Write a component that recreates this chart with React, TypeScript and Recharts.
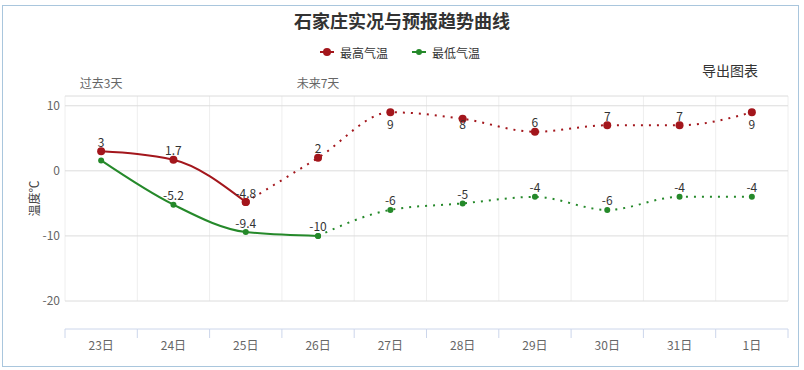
import React from "react";
import { CartesianGrid, Line, LineChart, XAxis, YAxis } from "recharts";

const days = ["23日", "24日", "25日", "26日", "27日", "28日", "29日", "30日", "31日", "1日"];
const maxTemps = [3, 1.7, -4.8, 2, 9, 8, 6, 7, 7, 9];
const minTemps = [1.6, -5.2, -9.4, -10, -6, -5, -4, -6, -4, -4];
// last index drawn as observed (solid); the rest is forecast (dotted)
const lastObservedMax = 2;
const lastObservedMin = 3;
const yTicks = [-20, -10, 0, 10];
const periodLabels = [
  { text: "过去3天", day: 0 },
  { text: "未来7天", day: 3 },
];

const RED = "#a3161c";
const GREEN = "#25892a";
const FONT = '"Noto Sans CJK SC", "Noto Sans", sans-serif';

const W = 804;
const H = 370;
const PLOT_LEFT = 65;
const PLOT_RIGHT = 788;
const PLOT_TOP = 96;
const HALF_BAND = (PLOT_RIGHT - PLOT_LEFT) / days.length / 2;

const data = days.map((day, i) => ({
  day,
  maxPast: i <= lastObservedMax ? maxTemps[i] : null,
  maxFuture: i >= lastObservedMax ? maxTemps[i] : null,
  minPast: i <= lastObservedMin ? minTemps[i] : null,
  minFuture: i >= lastObservedMin ? minTemps[i] : null,
}));

// hide a label when the two series are too close to show both
const overlaps = (i: number) => Math.abs(maxTemps[i] - minTemps[i]) < 2;

function makeLabel(from: number, to: number, hideOverlap: boolean) {
  return (props: any) => {
    const { x, y, value, index } = props;
    if (value == null || index < from || index > to) return null;
    if (hideOverlap && overlaps(index)) return null;
    const above = y - 10;
    const cy = above < PLOT_TOP + 16 ? PLOT_TOP + 27 : above;
    return (
      <text
        key={`lb-${index}`}
        x={x}
        y={cy}
        textAnchor="middle"
        dominantBaseline="central"
        fontSize={12}
        fill="#333"
      >
        {String(value)}
      </text>
    );
  };
}

function DayTick(props: any) {
  const { x, y, payload, index } = props;
  const axisY = y + 28;
  const isLast = index === days.length - 1;
  return (
    <g>
      <line x1={x - HALF_BAND} x2={x + HALF_BAND} y1={axisY} y2={axisY} stroke="#ccd6eb" />
      <line x1={x - HALF_BAND} x2={x - HALF_BAND} y1={axisY} y2={axisY + 9} stroke="#ccd6eb" />
      {isLast && (
        <line x1={x + HALF_BAND} x2={x + HALF_BAND} y1={axisY} y2={axisY + 9} stroke="#ccd6eb" />
      )}
      <text x={x} y={axisY + 15} textAnchor="middle" dominantBaseline="central" fontSize={12} fill="#666">
        {payload.value}
      </text>
    </g>
  );
}

const textAt = (x: number, y: number, size: number, extra: React.CSSProperties = {}) => ({
  position: "absolute" as const,
  left: x,
  top: y - size * 0.7,
  lineHeight: `${size * 1.4}px`,
  fontSize: size,
  whiteSpace: "nowrap" as const,
  ...extra,
});

export default function App() {
  return (
    <div style={{ position: "relative", width: W, height: H, background: "#fff", fontFamily: FONT }}>
      <style>{"body{margin:0}"}</style>
      <div
        style={{
          position: "absolute",
          left: 2,
          top: 5,
          width: 797,
          height: 362,
          border: "1px solid #a9c6dd",
          boxSizing: "border-box",
        }}
      />
      <div style={textAt(0, 21, 18, { width: W, textAlign: "center", fontWeight: 700, color: "#333" })}>
        石家庄实况与预报趋势曲线
      </div>
      <div style={{ position: "absolute", left: 318, top: 43, height: 18, display: "flex", alignItems: "center", fontSize: 12, color: "#333" }}>
        <svg width={18} height={18}>
          <line x1={2} x2={16} y1={9} y2={9} stroke={RED} strokeWidth={2} />
          <circle cx={9} cy={9} r={4} fill={RED} />
        </svg>
        <span style={{ marginLeft: 4 }}>最高气温</span>
        <svg width={18} height={18} style={{ marginLeft: 22 }}>
          <line x1={2} x2={16} y1={9} y2={9} stroke={GREEN} strokeWidth={2} />
          <circle cx={9} cy={9} r={3} fill={GREEN} />
        </svg>
        <span style={{ marginLeft: 4 }}>最低气温</span>
      </div>
      <div style={textAt(702, 71, 14, { color: "#333" })}>导出图表</div>
      {periodLabels.map((p) => (
        <div
          key={p.text}
          style={textAt(PLOT_LEFT + HALF_BAND * (2 * p.day + 1) - 40, 83, 12, {
            width: 80,
            textAlign: "center",
            color: "#666",
          })}
        >
          {p.text}
        </div>
      ))}
      <div style={{ position: "absolute", left: 0, top: 0 }}>
        <LineChart
          width={W}
          height={H}
          data={data}
          margin={{ top: PLOT_TOP, right: W - PLOT_RIGHT, left: 0, bottom: 9 }}
        >
          <CartesianGrid
            horizontal={false}
            stroke="#eeeeee"
            verticalCoordinatesGenerator={({ offset }: any) =>
              [...days.map((_, i) => offset.left + (i * offset.width) / days.length), offset.left + offset.width]
            }
          />
          <CartesianGrid vertical={false} stroke="#dcdcdc" />
          <XAxis
            dataKey="day"
            interval={0}
            padding={{ left: HALF_BAND, right: HALF_BAND }}
            axisLine={false}
            tickLine={false}
            tickSize={0}
            tickMargin={0}
            height={60}
            tick={<DayTick />}
          />
          <YAxis
            width={PLOT_LEFT}
            domain={[-20, 11.5]}
            ticks={yTicks}
            axisLine={false}
            tickLine={false}
            tickSize={3}
            tickMargin={2}
            tick={{ fontSize: 12, fill: "#666" }}
            label={{ value: "温度℃", angle: -90, position: "center", fontSize: 12, fill: "#444", dx: 2 }}
          />
          <Line
            type="monotone"
            dataKey="maxPast"
            stroke={RED}
            strokeWidth={2}
            dot={{ r: 4, fill: RED, strokeWidth: 0 }}
            activeDot={false}
            isAnimationActive={false}
            label={makeLabel(0, lastObservedMax, false)}
          />
          <Line
            type="monotone"
            dataKey="maxFuture"
            stroke={RED}
            strokeWidth={2}
            strokeDasharray="2 6"
            dot={{ r: 4, fill: RED, strokeWidth: 0 }}
            activeDot={false}
            isAnimationActive={false}
            label={makeLabel(lastObservedMax + 1, days.length - 1, false)}
          />
          <Line
            type="monotone"
            dataKey="minPast"
            stroke={GREEN}
            strokeWidth={2}
            dot={{ r: 3, fill: GREEN, strokeWidth: 0 }}
            activeDot={false}
            isAnimationActive={false}
            label={makeLabel(0, lastObservedMin, true)}
          />
          <Line
            type="monotone"
            dataKey="minFuture"
            stroke={GREEN}
            strokeWidth={2}
            strokeDasharray="2 6"
            dot={{ r: 3, fill: GREEN, strokeWidth: 0 }}
            activeDot={false}
            isAnimationActive={false}
            label={makeLabel(lastObservedMin + 1, days.length - 1, true)}
          />
        </LineChart>
      </div>
    </div>
  );
}
